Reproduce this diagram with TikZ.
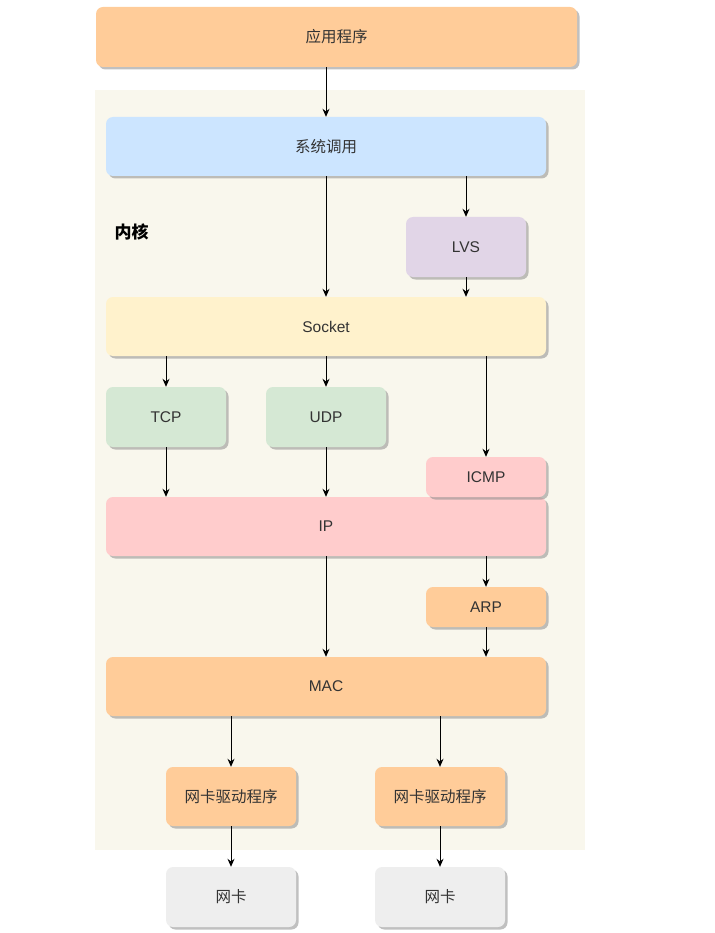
\documentclass[tikz,border=0pt]{standalone}
\usepackage{fontspec}
\setmainfont{Liberation Sans}
\newfontfamily\cjk{Noto Sans CJK SC}
\usetikzlibrary{arrows.meta,shadows}
\definecolor{stackInk}{HTML}{333333}
\definecolor{stackKernel}{HTML}{F9F7ED}
\definecolor{stackOrange}{HTML}{FFCC99}
\definecolor{stackBlue}{HTML}{CCE5FF}
\definecolor{stackPurple}{HTML}{E1D5E7}
\definecolor{stackYellow}{HTML}{FFF2CC}
\definecolor{stackGreen}{HTML}{D5E8D4}
\definecolor{stackRed}{HTML}{FFCCCC}
\definecolor{stackGray}{HTML}{EEEEEE}
\tikzset{
  every picture/.style={font=\fontsize{15.5}{18}\selectfont, text=stackInk},
  stack box/.style={draw=none, rounded corners=7pt, align=center,
    inner sep=0pt, minimum width=120pt, minimum height=60pt,
    drop shadow={shadow xshift=2.5pt, shadow yshift=-2.5pt,
      fill=black!45, opacity=0.55}},
  stack wide/.style={stack box, minimum width=440pt, minimum height=59pt},
  stack arrow/.style={-{Stealth[length=8pt,width=7pt]},
    draw=black, line width=1pt}
}

\begin{document}
\begin{tikzpicture}[x=1pt,y=-1pt]
  \useasboundingbox (0,0) rectangle (714,933);
  % kernel area
  \fill[stackKernel] (95,90) rectangle (585,850);
  \node[anchor=west, font=\fontsize{17}{20}\selectfont\cjk\bfseries, text=black] (kernel) at (111,232) {内核};

  \node[stack box, fill=stackOrange, minimum width=481pt] (app) at (336.5,37) {\cjk 应用程序};
  \node[stack wide, fill=stackBlue] (sys) at (326,146.5) {\cjk 系统调用};
  \node[stack box, fill=stackPurple] (lvs) at (466,247) {LVS};
  \node[stack wide, fill=stackYellow] (sock) at (326,326.5) {Socket};
  \node[stack box, fill=stackGreen] (tcp) at (166,417) {TCP};
  \node[stack box, fill=stackGreen] (udp) at (326,417) {UDP};
  \node[stack wide, fill=stackRed] (ip) at (326,526.5) {IP};
  \node[stack box, fill=stackRed, minimum height=40pt] (icmp) at (486,477) {ICMP};
  \node[stack box, fill=stackOrange, minimum height=40pt] (arp) at (486,607) {ARP};
  \node[stack wide, fill=stackOrange] (mac) at (326,686.5) {MAC};
  \node[stack box, fill=stackOrange, minimum width=130pt, minimum height=59pt] (drvA) at (231,796.5) {\cjk 网卡驱动程序};
  \node[stack box, fill=stackOrange, minimum width=130pt, minimum height=59pt] (drvB) at (440,796.5) {\cjk 网卡驱动程序};
  \node[stack box, fill=stackGray, minimum width=130pt] (nicA) at (231,897) {\cjk 网卡};
  \node[stack box, fill=stackGray, minimum width=130pt] (nicB) at (440,897) {\cjk 网卡};

  % connectors
  \draw[stack arrow] (app.south -| sys.north) -- (sys.north);
  \draw[stack arrow] (sys.south) -- (sock.north);
  \draw[stack arrow] (sys.south -| lvs.north) -- (lvs.north);
  \draw[stack arrow] (lvs.south) -- (lvs.south |- sock.north);
  \draw[stack arrow] (sock.south -| tcp.north) -- (tcp.north);
  \draw[stack arrow] (sock.south -| udp.north) -- (udp.north);
  \draw[stack arrow] (sock.south -| icmp.north) -- (icmp.north);
  \draw[stack arrow] (tcp.south) -- (tcp.south |- ip.north);
  \draw[stack arrow] (udp.south) -- (udp.south |- ip.north);
  \draw[stack arrow] (ip.south -| arp.north) -- (arp.north);
  \draw[stack arrow] (ip.south) -- (mac.north);
  \draw[stack arrow] (arp.south) -- (arp.south |- mac.north);
  \draw[stack arrow] (mac.south -| drvA.north) -- (drvA.north);
  \draw[stack arrow] (mac.south -| drvB.north) -- (drvB.north);
  \draw[stack arrow] (drvA.south) -- (nicA.north);
  \draw[stack arrow] (drvB.south) -- (nicB.north);
\end{tikzpicture}
\end{document}
